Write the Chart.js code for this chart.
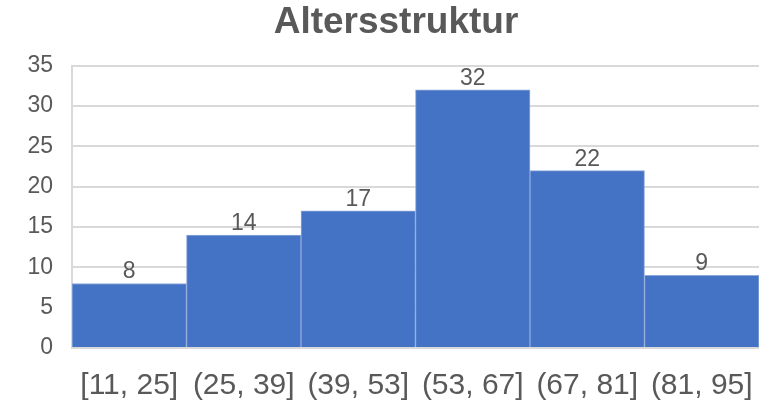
<!DOCTYPE html>
<html>
<head>
<meta charset="utf-8">
<script src="https://cdn.jsdelivr.net/npm/chart.js@4/dist/chart.umd.min.js"></script>
<style>
html,body{margin:0;padding:0;background:#fff;}
#wrap{width:759px;height:406px;position:relative;}
</style>
</head>
<body>
<div id="wrap"><canvas id="c" width="759" height="406"></canvas></div>
<script>
const categories = ["[11, 25]", "(25, 39]", "(39, 53]", "(53, 67]", "(67, 81]", "(81, 95]"];
const counts = [8, 14, 17, 32, 22, 9];
const yTicks = [0, 5, 10, 15, 20, 25, 30, 35];
const titleText = "Altersstruktur";

const FONT = "'Liberation Sans', Arial, sans-serif";
const TEXT = "#595959";

const valueLabels = {
  id: "valueLabels",
  afterDatasetsDraw(chart) {
    const ctx = chart.ctx;
    const meta = chart.getDatasetMeta(0);
    ctx.save();
    ctx.font = "23px " + FONT;
    ctx.fillStyle = TEXT;
    ctx.textAlign = "center";
    ctx.textBaseline = "alphabetic";
    meta.data.forEach((bar, i) => {
      ctx.fillText(String(counts[i]), bar.x, bar.y - 5);
    });
    ctx.restore();
  }
};

const titleShift = {
  id: "titleShift",
  afterLayout(chart) {
    if (chart.titleBlock) { chart.titleBlock.left = 33; }
  }
};

new Chart(document.getElementById("c"), {
  type: "bar",
  data: {
    labels: categories,
    datasets: [{
      data: counts,
      backgroundColor: "#4472C4",
      borderColor: "#8EA9DB",
      borderWidth: 1,
      categoryPercentage: 1.0,
      barPercentage: 1.0
    }]
  },
  options: {
    responsive: false,
    animation: false,
    layout: { padding: 0 },
    plugins: {
      legend: { display: false },
      tooltip: { enabled: false },
      title: {
        display: true,
        text: titleText,
        color: TEXT,
        font: { family: FONT, size: 37, weight: "bold", lineHeight: 1.1 },
        padding: { top: 2, bottom: 23 }
      }
    },
    scales: {
      x: {
        afterFit(scale) { scale.height = 58; scale.paddingLeft = 0; scale.paddingRight = 0; },
        grid: { display: false, drawTicks: false },
        border: { display: true, color: "#D9D9D9", width: 2 },
        ticks: {
          color: TEXT,
          font: { family: FONT, size: 30 },
          padding: 20,
          maxRotation: 0,
          autoSkip: false
        }
      },
      y: {
        min: 0,
        max: 35,
        afterBuildTicks(scale) { scale.ticks = yTicks.map(v => ({ value: v })); },
        afterFit(scale) { scale.width = 72; },
        grid: { color: "#D9D9D9", lineWidth: 2, drawTicks: false },
        border: { display: true, color: "#D9D9D9", width: 2 },
        ticks: {
          color: TEXT,
          font: { family: FONT, size: 23 },
          padding: 19
        }
      }
    }
  },
  plugins: [valueLabels, titleShift]
});
</script>
</body>
</html>
